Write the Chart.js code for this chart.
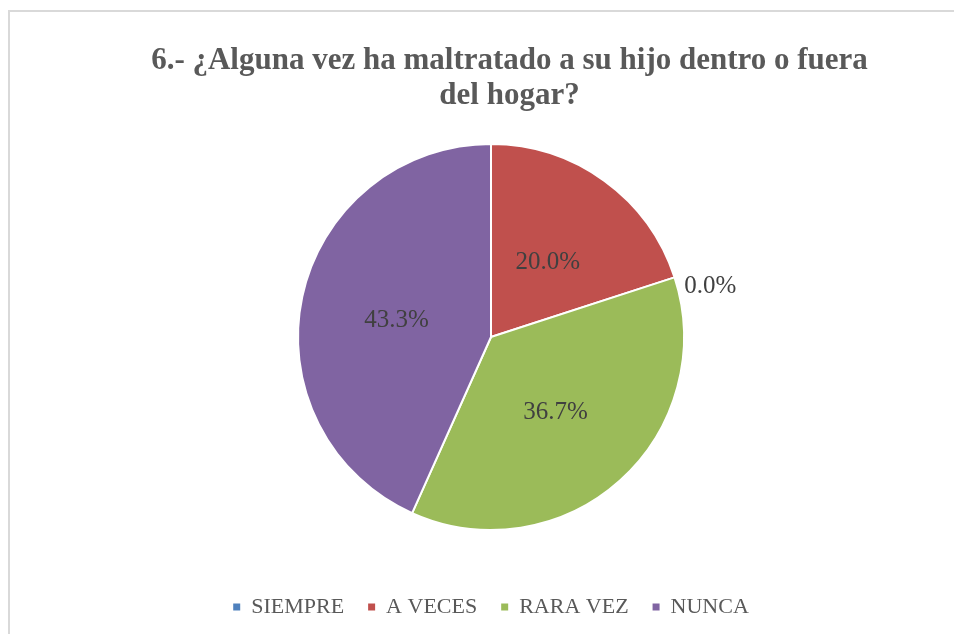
<!DOCTYPE html>
<html>
<head>
<meta charset="utf-8">
<script src="https://cdn.jsdelivr.net/npm/chart.js@4.4.0/dist/chart.umd.min.js"></script>
<style>
    html, body { margin: 0; padding: 0; background: #fff; overflow: hidden; }
    #frame {
        position: absolute;
        left: 8px;
        top: 10px;
        width: 962px;
        height: 640px;
        border-left: 2px solid #d9d9d9;
        border-top: 2px solid #d9d9d9;
    }
    #chart { display: block; }
</style>
</head>
<body>
<div id="frame">
    <canvas id="chart" width="962" height="622"></canvas>
</div>
<script>
var titleLines = ['6.- ¿Alguna vez ha maltratado a su hijo dentro o fuera', 'del hogar?']
var categories = ['SIEMPRE', 'A VECES', 'RARA VEZ', 'NUNCA']
var percentages = [0.0, 20.0, 36.7, 43.3]
var sliceColors = ['#4f81bd', '#c0504d', '#9bbb59', '#8064a2']

/**
 * Draw the two line title, Excel centres it a bit to the right of the pie
 */
var titlePlugin = {
    id: 'excelTitle',
    afterDraw: function (chart) {
        var ctx = chart.ctx
        ctx.save()
        ctx.font = 'bold 31px "Liberation Serif", serif'
        ctx.fillStyle = '#595959'
        ctx.textAlign = 'center'
        ctx.textBaseline = 'alphabetic'
        titleLines.forEach(function (line, i) {
            ctx.fillText(line, 499.5, 57 + i * 35)
        })
        ctx.restore()
    }
}

/**
 * Percentage labels, inside the slice or just outside it when the slice is empty
 */
var labelPlugin = {
    id: 'sliceLabels',
    afterDatasetsDraw: function (chart) {
        var ctx = chart.ctx
        var arcs = chart.getDatasetMeta(0).data
        ctx.save()
        ctx.font = '25px "Liberation Serif", serif'
        ctx.fillStyle = '#404040'
        ctx.textAlign = 'center'
        ctx.textBaseline = 'middle'
        arcs.forEach(function (arc, i) {
            var text = percentages[i].toFixed(1) + '%'
            var pos
            if (percentages[i] === 0) {
                var next = arcs[i + 1] || arc
                var a = next.endAngle + 0.07
                var r = arc.outerRadius + 33
                pos = { x: arc.x + Math.cos(a) * r, y: arc.y + Math.sin(a) * r }
            } else {
                pos = arc.tooltipPosition()
            }
            ctx.fillText(text, pos.x, pos.y + 4)
        })
        ctx.restore()
    }
}

// legend squares without the white slice border round them
var defaultLabels = Chart.overrides.pie.plugins.legend.labels.generateLabels
function legendLabels(chart) {
    return defaultLabels(chart).map(function (item) {
        item.lineWidth = 0
        item.strokeStyle = item.fillStyle
        return item
    })
}

new Chart(document.getElementById('chart'), {
    type: 'pie',
    data: {
        labels: categories,
        datasets: [{
            data: percentages,
            backgroundColor: sliceColors,
            borderColor: '#ffffff',
            borderWidth: 2,
            radius: 193
        }]
    },
    options: {
        responsive: false,
        animation: false,
        devicePixelRatio: 1,
        events: [],
        layout: {
            padding: { top: 90, bottom: 6, left: 0, right: 0 }
        },
        plugins: {
            title: { display: false },
            tooltip: { enabled: false },
            legend: {
                display: true,
                position: 'bottom',
                labels: {
                    boxWidth: 7,
                    boxHeight: 7,
                    padding: 24,
                    color: '#595959',
                    font: { family: '"Liberation Serif", serif', size: 22 },
                    generateLabels: legendLabels
                }
            }
        }
    },
    plugins: [titlePlugin, labelPlugin]
})
</script>
</body>
</html>
